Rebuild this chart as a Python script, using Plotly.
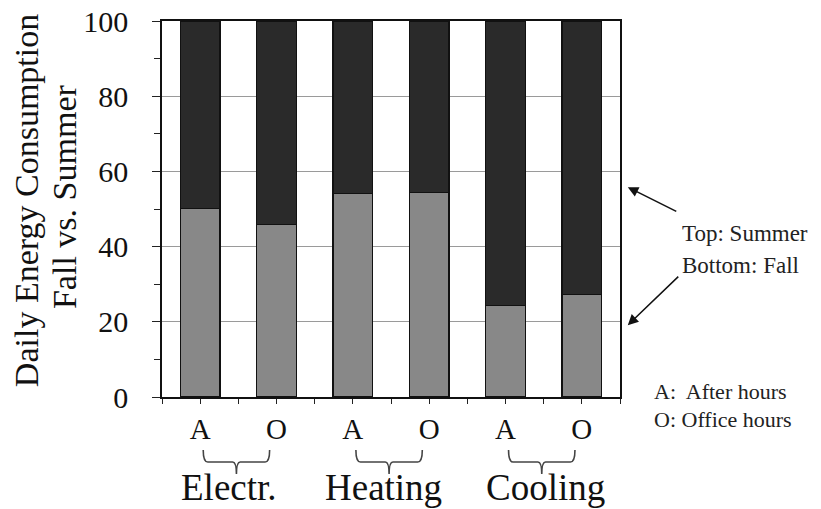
import plotly.graph_objects as go

categories = ["Electr.", "Heating", "Cooling"]
category_x = [0.372, 2.396, 4.52]
bar_labels = ["A", "O", "A", "O", "A", "O"]
fall_share = [50.1, 45.9, 54.1, 54.3, 24.4, 27.2]
summer_share = [100 - v for v in fall_share]
bar_pos = list(range(len(bar_labels)))

FONT = "Liberation Serif, Times New Roman, serif"
INK = "#111111"

fig = go.Figure()
fig.add_trace(go.Bar(x=bar_pos, y=fall_share, name="Fall", width=0.52, marker=dict(color="#888888", line=dict(color=INK, width=1.2))))
fig.add_trace(go.Bar(x=bar_pos, y=summer_share, name="Summer", width=0.52, marker=dict(color="#2a2a2a", line=dict(color=INK, width=1.2))))

# braces under each A/O pair
shapes = []
for i in range(len(categories)):
    x0, x1 = 2 * i + 0.04, 2 * i + 0.91
    xc = (x0 + x1) / 2
    path = (f"M {x0},-0.141 Q {x0},-0.173 {x0 + 0.06},-0.173 L {xc - 0.05},-0.173 Q {xc},-0.173 {xc},-0.205 "
            f"Q {xc},-0.173 {xc + 0.05},-0.173 L {x1 - 0.06},-0.173 Q {x1},-0.173 {x1},-0.141")
    shapes.append(dict(type="path", xref="x", yref="paper", path=path, line=dict(color="#444444", width=1.6)))

annotations = []
for name, cx in zip(categories, category_x):
    annotations.append(dict(x=cx, y=-0.2405, xref="x", yref="paper", text=name, showarrow=False, font=dict(size=37, color=INK, family=FONT), xanchor="center", yanchor="middle"))
annotations += [
    dict(x=-0.297, y=0.5235, xref="paper", yref="paper", text="Daily Energy Consumption", textangle=-90, showarrow=False, xanchor="center", yanchor="middle", font=dict(size=34, color=INK, family=FONT)),
    dict(x=-0.213, y=0.533, xref="paper", yref="paper", text="Fall vs. Summer", textangle=-90, showarrow=False, xanchor="center", yanchor="middle", font=dict(size=34, color=INK, family=FONT)),
    dict(x=1.017, y=0.558, xref="paper", yref="paper", text="", showarrow=True, ax=50, ay=25, arrowhead=2, arrowsize=1.4, arrowwidth=1.5, arrowcolor=INK),
    dict(x=1.017, y=0.191, xref="paper", yref="paper", text="", showarrow=True, ax=52, ay=-50, arrowhead=2, arrowsize=1.4, arrowwidth=1.5, arrowcolor=INK),
    dict(x=1.13, y=0.4345, xref="paper", yref="paper", text="Top: Summer", showarrow=False, xanchor="left", yanchor="middle", font=dict(size=23, color="#222222", family=FONT)),
    dict(x=1.13, y=0.351, xref="paper", yref="paper", text="Bottom: Fall", showarrow=False, xanchor="left", yanchor="middle", font=dict(size=23, color="#222222", family=FONT)),
    dict(x=1.07, y=0.0133, xref="paper", yref="paper", text="A:  After hours", showarrow=False, xanchor="left", yanchor="middle", font=dict(size=22, color="#222222", family=FONT)),
    dict(x=1.07, y=-0.061, xref="paper", yref="paper", text="O: Office hours", showarrow=False, xanchor="left", yanchor="middle", font=dict(size=22, color="#222222", family=FONT)),
]

fig.update_layout(
    width=821, height=509, barmode="stack", showlegend=False,
    paper_bgcolor="white", plot_bgcolor="white",
    margin=dict(l=154, r=209, t=13, b=120),
    font=dict(family=FONT, color=INK),
    xaxis=dict(range=[-0.5, 5.5], tickvals=bar_pos, ticktext=bar_labels, ticks="outside", ticklen=5, tickcolor="#222222",
               minor=dict(dtick=0.5, tick0=0, ticks="outside", ticklen=5, tickcolor="#222222"),
               showgrid=False, zeroline=False, showline=True, linecolor=INK, linewidth=1.5, mirror=True, automargin=False,
               tickfont=dict(size=29, family=FONT, color=INK), ticklabelstandoff=0),
    yaxis=dict(range=[0, 100], dtick=20, ticks="outside", ticklen=8, tickcolor="#222222",
               minor=dict(dtick=10, ticks="outside", ticklen=6, tickcolor="#222222"),
               showgrid=True, gridcolor="#9a9a9a", gridwidth=1, zeroline=False, automargin=False,
               showline=True, linecolor=INK, linewidth=1.5, mirror=True, ticklabeloverflow="allow",
               tickfont=dict(size=30, family=FONT, color=INK), ticklabelstandoff=18),
    shapes=shapes, annotations=annotations,
)
fig.write_html("out.html")
